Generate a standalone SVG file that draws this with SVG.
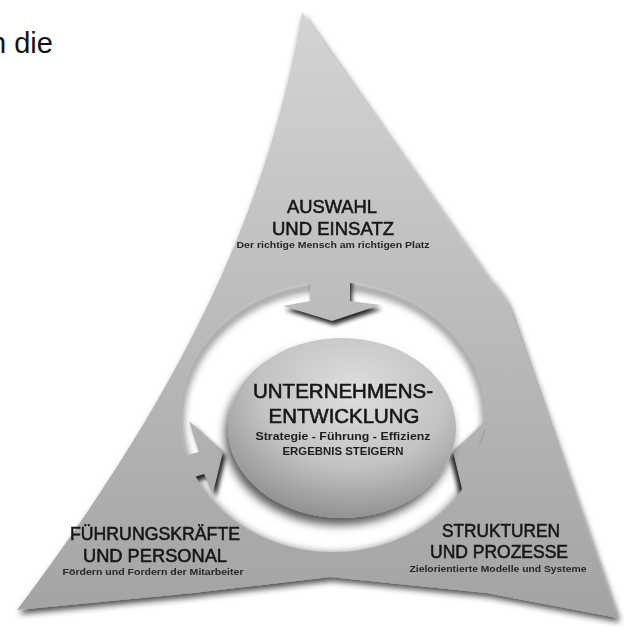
<svg xmlns="http://www.w3.org/2000/svg" width="626" height="626" viewBox="0 0 626 626">
<style>
.t{font-family:"Liberation Sans",Arial,sans-serif;fill:#161616;stroke:#161616;text-anchor:middle}
.h{font-size:18px;stroke-width:0.55}
.c{font-size:21px;stroke-width:0.6}
.s{font-size:9px;font-weight:bold;fill:#262626;stroke-width:0}
.m{font-size:11px;font-weight:bold;fill:#1e1e1e;stroke-width:0}
.arrow{fill:url(#gTri)}
.ash{fill:#000;opacity:0.85}
</style>
<defs>
<linearGradient id="gTri" gradientUnits="userSpaceOnUse" x1="0" y1="12" x2="0" y2="620">
<stop offset="0" stop-color="#d4d4d4"/>
<stop offset="1" stop-color="#a3a3a3"/>
</linearGradient>
<radialGradient id="gDisc" cx="0.55" cy="0.3" r="0.75">
<stop offset="0" stop-color="#dedede"/>
<stop offset="0.55" stop-color="#c3c3c3"/>
<stop offset="1" stop-color="#8a8a8a"/>
</radialGradient>
<filter id="fShadow" x="-10%" y="-10%" width="130%" height="130%">
<feGaussianBlur in="SourceAlpha" stdDeviation="3"/>
<feOffset dx="2" dy="4" result="b"/>
<feFlood flood-color="#000" flood-opacity="0.7"/>
<feComposite in2="b" operator="in"/>
<feMerge><feMergeNode/><feMergeNode in="SourceGraphic"/></feMerge>
</filter>
<filter id="fDisc" x="-20%" y="-20%" width="140%" height="150%">
<feGaussianBlur in="SourceAlpha" stdDeviation="5"/>
<feOffset dx="-3" dy="7" result="b"/>
<feFlood flood-color="#000" flood-opacity="0.65"/>
<feComposite in2="b" operator="in"/>
<feMerge><feMergeNode/><feMergeNode in="SourceGraphic"/></feMerge>
</filter>
<filter id="fBlur" x="-20%" y="-20%" width="140%" height="140%"><feGaussianBlur stdDeviation="3.5"/></filter>
<filter id="fBlur2" x="-50%" y="-50%" width="200%" height="200%"><feGaussianBlur stdDeviation="2"/></filter>
<clipPath id="cRing"><ellipse cx="333" cy="417" rx="153" ry="135"/></clipPath>
</defs>

<text x="-10" y="53" style="font-family:'Liberation Sans',Arial,sans-serif;font-size:29px;fill:#111">n die</text>

<g id="triangle">
<path d="M302,12 L488,277 Q507,296 513,317 L618,618 L487,593 L330,577 L193,593 L17,610 C190,380 270,200 302,12 Z" fill="url(#gTri)" filter="url(#fShadow)"/>
</g>

<g id="ring">
<ellipse cx="333" cy="417" rx="153" ry="135" fill="#fff"/>
<g clip-path="url(#cRing)">
<ellipse cx="333" cy="421" rx="153" ry="135" fill="none" stroke="#000" stroke-opacity="0.42" stroke-width="8" filter="url(#fBlur)"/>
</g>
</g>

<g id="connectors">
<g clip-path="url(#cRing)" filter="url(#fBlur2)">
<polygon class="ash" transform="translate(2,4)" points="310,260 350,260 350,301 380,305 332,321 283,306 310,301"/>
<polygon class="ash" transform="translate(3,4)" points="160,462 199,452 189,421 223,452 213,493 204,474 166,486"/>
<polygon class="ash" transform="translate(-3,4)" points="516,462 477,452 487,421 453,452 463,493 472,474 510,486"/>
</g>
<polygon class="arrow" points="310,260 350,260 350,301 380,305 332,321 283,306 310,301"/>
<polygon class="arrow" points="160,462 199,452 189,421 223,452 213,493 204,474 166,486"/>
<polygon class="arrow" points="516,462 477,452 487,421 453,452 463,493 472,474 510,486"/>
</g>

<g id="center">
<ellipse cx="342" cy="428" rx="114" ry="90" fill="url(#gDisc)" filter="url(#fDisc)"/>
<text class="t c" x="343" y="398" textLength="180" lengthAdjust="spacingAndGlyphs">UNTERNEHMENS-</text>
<text class="t c" x="344" y="423" textLength="151" lengthAdjust="spacingAndGlyphs">ENTWICKLUNG</text>
<text class="t m" x="343" y="440" textLength="175" lengthAdjust="spacingAndGlyphs">Strategie - Führung - Effizienz</text>
<text class="t m" x="343" y="455" textLength="121" lengthAdjust="spacingAndGlyphs">ERGEBNIS STEIGERN</text>
</g>

<g id="top">
<text class="t h" x="332" y="213" textLength="90" lengthAdjust="spacingAndGlyphs">AUSWAHL</text>
<text class="t h" x="333" y="235" textLength="122" lengthAdjust="spacingAndGlyphs">UND EINSATZ</text>
<text class="t s" x="333" y="248" textLength="193" lengthAdjust="spacingAndGlyphs">Der richtige Mensch am richtigen Platz</text>
</g>

<g id="left">
<text class="t h" x="155" y="540" textLength="170" lengthAdjust="spacingAndGlyphs">FÜHRUNGSKRÄFTE</text>
<text class="t h" x="155" y="562" textLength="144" lengthAdjust="spacingAndGlyphs">UND PERSONAL</text>
<text class="t s" x="153" y="575" textLength="181" lengthAdjust="spacingAndGlyphs">Fördern und Fordern der Mitarbeiter</text>
</g>

<g id="right">
<text class="t h" x="501" y="537" textLength="118" lengthAdjust="spacingAndGlyphs">STRUKTUREN</text>
<text class="t h" x="499" y="558" textLength="138" lengthAdjust="spacingAndGlyphs">UND PROZESSE</text>
<text class="t s" x="498" y="572" textLength="177" lengthAdjust="spacingAndGlyphs">Zielorientierte Modelle und Systeme</text>
</g>
</svg>
